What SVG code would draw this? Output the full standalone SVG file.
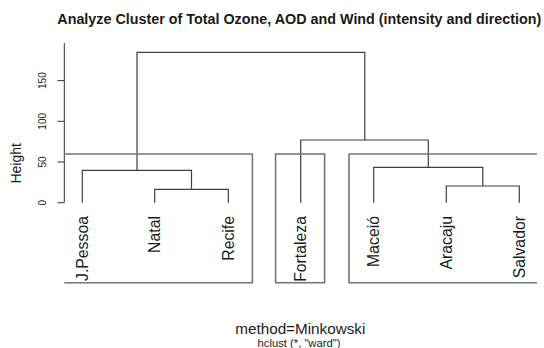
<svg xmlns="http://www.w3.org/2000/svg" width="544" height="348" viewBox="0 0 544 348">
<style>
text{font-family:"Liberation Sans",Arial,sans-serif;fill:#1a1a1a}
.title{font-size:14.3px;font-weight:bold}
.leaf{font-size:15.8px}
.tick{font-size:10px}
.lab{font-size:14px}
.sub{font-size:10.5px}
.xlab{font-size:14.5px}
.den{fill:none;stroke:#404040;stroke-width:1.2}
.box{fill:none;stroke:#777;stroke-width:1.6}
.ax{fill:none;stroke:#333;stroke-width:1}
</style>
<rect width="544" height="348" fill="#fff"/>
<text class="title" x="299.3" y="24" text-anchor="middle" textLength="484" lengthAdjust="spacingAndGlyphs">Analyze Cluster of Total Ozone, AOD and Wind (intensity and direction)</text>
<g id="axis">
<path class="ax" d="M64.3,43V202.7M57.5,202.7H64.3M57.5,162H64.3M57.5,121.3H64.3M57.5,80.6H64.3"/>
<text class="tick" transform="translate(45.5,202.7) rotate(-90)" text-anchor="middle">0</text>
<text class="tick" transform="translate(45.5,162) rotate(-90)" text-anchor="middle">50</text>
<text class="tick" transform="translate(45.5,121.3) rotate(-90)" text-anchor="middle">100</text>
<text class="tick" transform="translate(45.5,80.6) rotate(-90)" text-anchor="middle">150</text>
<text class="lab" transform="translate(21,163.3) rotate(-90)" text-anchor="middle">Height</text>
</g>
<g id="connectors">
<path class="den" d="M82.3,202.7V170.3H191.5V189.3"/>
<path class="den" d="M154.7,202.7V189.3H228.3V202.7"/>
<path class="den" d="M137,170.3V52.3H364.8V140"/>
<path class="den" d="M300.7,202.7V140H428.3V167.3"/>
<path class="den" d="M373.7,202.7V167.3H482.8V186"/>
<path class="den" d="M446.3,202.7V186H519.3V202.7"/>
</g>
<g id="cluster1"><path class="box" d="M64.3,154H252.4V282.7H64.3"/></g>
<g id="cluster2"><rect class="box" x="275.6" y="154" width="49" height="128.7"/></g>
<g id="cluster3"><path class="box" d="M537,154H349V282.7H537"/></g>
<g id="leaf-jpessoa"><text class="leaf" transform="translate(88,216) rotate(-90)" text-anchor="end">J.Pessoa</text></g>
<g id="leaf-natal"><text class="leaf" transform="translate(160.4,216) rotate(-90)" text-anchor="end">Natal</text></g>
<g id="leaf-recife"><text class="leaf" transform="translate(234,216) rotate(-90)" text-anchor="end">Recife</text></g>
<g id="leaf-fortaleza"><text class="leaf" transform="translate(306.4,216) rotate(-90)" text-anchor="end">Fortaleza</text></g>
<g id="leaf-maceio"><text class="leaf" transform="translate(379.4,216) rotate(-90)" text-anchor="end">Maceió</text></g>
<g id="leaf-aracaju"><text class="leaf" transform="translate(452,216) rotate(-90)" text-anchor="end">Aracaju</text></g>
<g id="leaf-salvador"><text class="leaf" transform="translate(525,216) rotate(-90)" text-anchor="end">Salvador</text></g>
<text class="xlab" x="300.3" y="333.5" text-anchor="middle" textLength="130" lengthAdjust="spacingAndGlyphs">method=Minkowski</text>
<text class="sub" x="299" y="346.5" text-anchor="middle" textLength="83" lengthAdjust="spacingAndGlyphs">hclust (*, "ward")</text>
</svg>
